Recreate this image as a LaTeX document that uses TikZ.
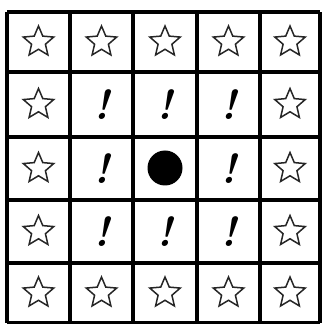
\documentclass[tikz,border=0pt]{standalone}
\usetikzlibrary{shapes.geometric}

\begin{document}
\begin{tikzpicture}[
  x=1pt, y=1pt,
  gridline/.style={line width=3.6pt, black},
  starmark/.style={star, star points=5, star point ratio=2.2, draw=black!85, line width=1.5pt,
                   minimum size=32pt, inner sep=0pt},
  bang/.style={font=\fontsize{42}{42}\selectfont\bfseries\itshape, inner sep=0pt},
  dot/.style={circle, fill=black, minimum size=35pt, inner sep=0pt},
]
\useasboundingbox (0,0) rectangle (323,324);

% ---------- grid ----------
\foreach \x in {7,70,133,197,260,320}
  \draw[gridline] (\x,1) -- (\x,312);
\foreach \y in {1,61,124,187,252,312}
  \draw[gridline] (7,\y) -- (320,\y);

% ---------- cells: outer ring of stars, inner ring of marks ----------
\foreach \x [count=\i] in {38.5,101.5,165,228.5,290}
  \foreach \y [count=\j] in {282,219.5,155.5,92.5,31} {
    \pgfmathtruncatemacro{\ring}{max(abs(\i-3),abs(\j-3))}
    \ifnum\ring=2
      \node[starmark] (cell-\i-\j) at (\x,\y) {};
    \fi
    \ifnum\ring=1
      \node[bang] (cell-\i-\j) at (\x,\y) {!};
    \fi
  }

% ---------- centre ----------
\node[dot] (cell-3-3) at (165,156) {};
\end{tikzpicture}
\end{document}
